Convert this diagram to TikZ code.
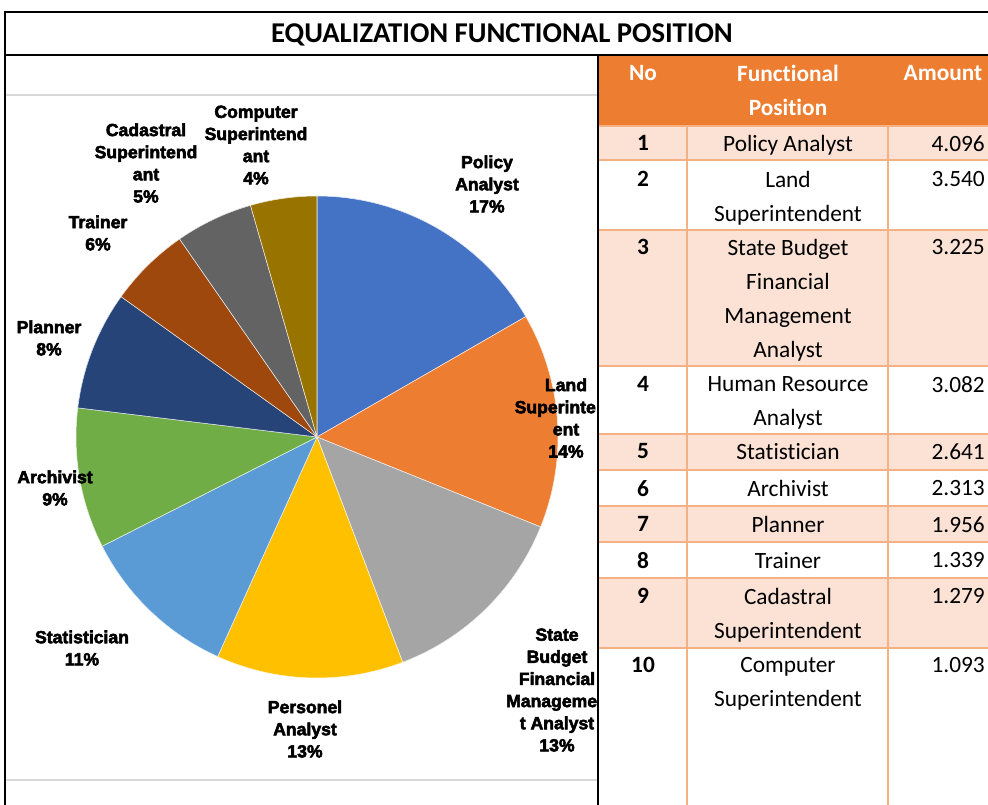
\documentclass[tikz,border=0pt]{standalone}
\usepackage{fontspec}
\setmainfont{Carlito}[Ligatures=NoCommon]
\newfontfamily\piefont[FakeBold=3]{Liberation Sans Bold}
\usetikzlibrary{positioning}
\definecolor{hdr}{HTML}{ED7D31}
\definecolor{band}{HTML}{FBE2D5}
\definecolor{rule}{HTML}{F4B183}
\definecolor{pa}{HTML}{4472C4}
\definecolor{pb}{HTML}{ED7D31}
\definecolor{pc}{HTML}{A5A5A5}
\definecolor{pd}{HTML}{FFC000}
\definecolor{pe}{HTML}{5B9BD5}
\definecolor{pf}{HTML}{70AD47}
\definecolor{pg}{HTML}{264478}
\definecolor{ph}{HTML}{9E480E}
\definecolor{pi}{HTML}{636363}
\definecolor{pj}{HTML}{997300}
\tikzset{
  lbl/.style={font=\piefont\fontsize{13.2}{16.6}\selectfont, align=center, inner sep=0pt},
  cell/.style={font=\fontsize{17.5}{25.5}\selectfont, align=center, inner sep=0pt, anchor=north},
  num/.style={cell, font=\bfseries\fontsize{17.5}{25.5}\selectfont},
  amt/.style={font=\fontsize{17.5}{25.5}\selectfont, inner sep=0pt, anchor=north east},
  head/.style={font=\bfseries\fontsize{17.5}{25.5}\selectfont, text=white, align=center, inner sep=0pt, anchor=north}
}
\begin{document}
\begin{tikzpicture}[x=0.75pt,y=-0.75pt]
  \useasboundingbox (0,0) rectangle (988,805);
  \clip (0,0) rectangle (988,805);
  \fill[white] (0,0) rectangle (988,805);
  % table
  \fill[hdr] (598,55) rectangle (1000,126);
  \foreach \a/\b in {126/160,230/366,434/470,506/542,578/648}
    \fill[band] (598,\a) rectangle (1000,\b);
  \foreach \a in {126,160,230,366,434,470,506,542,578,648}
    \draw[rule, line width=1.5pt] (598,\a) -- (1000,\a);
  \draw[rule, line width=1.5pt] (687,126) -- (687,805) (888,126) -- (888,805);
  \node[head] (h1) at (643,65) {No};
  \node[head] (h2) at (788,65) {Functional\\Position};
  \node[head] (h3) at (943,65) {Amount};
  \foreach \y/\n/\t/\v in {
      135/1/Policy Analyst/4.096,
      171/2/Land\\Superintendent/3.540,
      239/3/State Budget\\Financial\\Management\\Analyst/3.225,
      376/4/Human Resource\\Analyst/3.082,
      443/5/Statistician/2.641,
      480/6/Archivist/2.313,
      516/7/Planner/1.956,
      552/8/Trainer/1.339,
      588/9/Cadastral\\Superintendent/1.279,
      657/10/Computer\\Superintendent/1.093} {
    \node[num] (n\n) at (643,\y) {\n};
    \node[cell] (f\n) at (788,\y) {\t};
    \node[amt] (a\n) at (985,\y) {\v};
  }
  % pie
  \coordinate (pie) at (317,437);
  \def\angA{-90}
  \foreach \v/\c in {4.096/pa,3.540/pb,3.225/pc,3.082/pd,2.641/pe,
      2.313/pf,1.956/pg,1.339/ph,1.279/pi,1.093/pj} {
    \pgfmathsetmacro\angB{\angA+360*\v/24.564}
    \filldraw[fill=\c, draw=white!85!\c, line width=0.4pt]
      (pie) -- ++(\angA:241) arc[start angle=\angA, end angle=\angB, radius=241] -- cycle;
    \global\let\angA\angB
  }
  \begin{scope}
    \clip (5,95) rectangle (597,780);
    \node[lbl] (lcomp) at (256,145) {Computer\\Superintend\\ant\\4\%};
    \node[lbl] (lcad) at (146,163) {Cadastral\\Superintend\\ant\\5\%};
    \node[lbl] (lpol) at (487,184) {Policy\\Analyst\\17\%};
    \node[lbl] (ltrain) at (98,233) {Trainer\\6\%};
    \node[lbl] (lplan) at (49,338) {Planner\\8\%};
    \node[lbl] (lland) at (566,418) {Land\\Superinte\phantom{nd}\\ent\\14\%};
    \node[lbl] (larch) at (55,488) {Archivist\\9\%};
    \node[lbl] (lstat) at (82,648) {Statistician\\11\%};
    \node[lbl] (lpers) at (305,729) {Personel\\Analyst\\13\%};
    \node[lbl] (lstate) at (557,690) {State\\Budget\\Financial\\Manageme\phantom{n}\\t Analyst\\13\%};
  \end{scope}
  % frame
  \draw[black!15, line width=1.2pt] (5,95) -- (597,95) (5,780) -- (597,780);
  \node[font=\bfseries\fontsize{21.5}{26}\selectfont, inner sep=0pt] (title) at (502,35) {EQUALIZATION FUNCTIONAL POSITION};
  \draw[line width=1.8pt] (1000,12) -- (5,12) -- (5,805);
  \draw[line width=1.8pt] (5,55) -- (1000,55) (598,55) -- (598,805);
\end{tikzpicture}
\end{document}
